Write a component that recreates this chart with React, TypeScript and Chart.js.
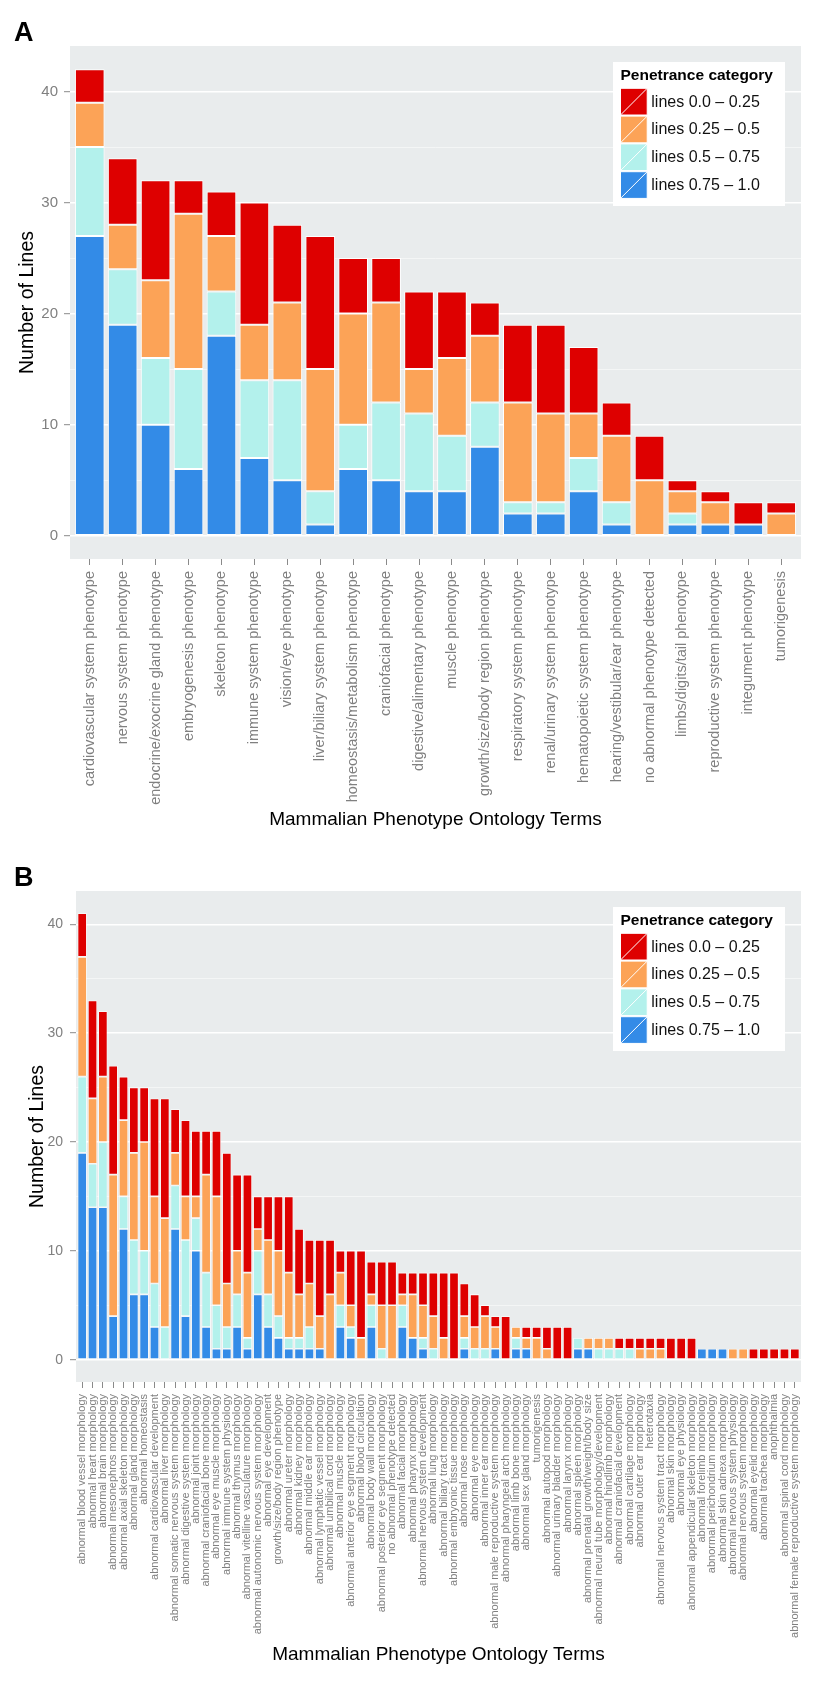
import React, { useEffect, useRef } from 'react';
import { Chart, registerables } from 'chart.js';

Chart.register(...registerables);

const FONT = "'Liberation Sans', Arial, Helvetica, sans-serif";

// stacking order: bottom -> top
const SERIES_LABELS = ['lines 0.75 – 1.0', 'lines 0.5 – 0.75', 'lines 0.25 – 0.5', 'lines 0.0 – 0.25'];
const SERIES_COLORS = ['#338BE7', '#B3F1EC', '#FCA357', '#DE0000'];
const LEGEND_TITLE = 'Penetrance category';
const Y_TITLE = 'Number of Lines';
const X_TITLE = 'Mammalian Phenotype Ontology Terms';
const Y_MAJOR_TICKS = [0, 10, 20, 30, 40];
const Y_MINOR_TICKS = [5, 15, 25, 35];

// ---------- Panel A ----------
const categoriesA = [
  'cardiovascular system phenotype',
  'nervous system phenotype',
  'endocrine/exocrine gland phenotype',
  'embryogenesis phenotype',
  'skeleton phenotype',
  'immune system phenotype',
  'vision/eye phenotype',
  'liver/biliary system phenotype',
  'homeostasis/metabolism phenotype',
  'craniofacial phenotype',
  'digestive/alimentary phenotype',
  'muscle phenotype',
  'growth/size/body region phenotype',
  'respiratory system phenotype',
  'renal/urinary system phenotype',
  'hematopoietic system phenotype',
  'hearing/vestibular/ear phenotype',
  'no abnormal phenotype detected',
  'limbs/digits/tail phenotype',
  'reproductive system phenotype',
  'integument phenotype',
  'tumorigenesis',
];
const blueA = [27, 19, 10, 6, 18, 7, 5, 1, 6, 5, 4, 4, 8, 2, 2, 4, 1, 0, 1, 1, 1, 0];
const cyanA = [8, 5, 6, 9, 4, 7, 9, 3, 4, 7, 7, 5, 4, 1, 1, 3, 2, 0, 1, 0, 0, 0];
const orangeA = [4, 4, 7, 14, 5, 5, 7, 11, 10, 9, 4, 7, 6, 9, 8, 4, 6, 5, 2, 2, 0, 2];
const redA = [3, 6, 9, 3, 4, 11, 7, 12, 5, 4, 7, 6, 3, 7, 8, 6, 3, 4, 1, 1, 2, 1];

// ---------- Panel B ----------
const categoriesB = [
  'abnormal blood vessel morphology',
  'abnormal heart morphology',
  'abnormal brain morphology',
  'abnormal mesonephros morphology',
  'abnormal axial skeleton morphology',
  'abnormal gland morphology',
  'abnormal homeostasis',
  'abnormal cardiovascular development',
  'abnormal liver morphology',
  'abnormal somatic nervous system morphology',
  'abnormal digestive system morphology',
  'abnormal joint morphology',
  'abnormal craniofacial bone morphology',
  'abnormal eye muscle morphology',
  'abnormal immune system physiology',
  'abnormal thymus morphology',
  'abnormal vitelline vasculature morphology',
  'abnormal autonomic nervous system morphology',
  'abnormal eye development',
  'growth/size/body region phenotype',
  'abnormal ureter morphology',
  'abnormal kidney morphology',
  'abnormal middle ear morphology',
  'abnormal lymphatic vessel morphology',
  'abnormal umbilical cord morphology',
  'abnormal muscle morphology',
  'abnormal anterior eye segment morphology',
  'abnormal blood circulation',
  'abnormal body wall morphology',
  'abnormal posterior eye segment morphology',
  'no abnormal phenotype detected',
  'abnormal facial morphology',
  'abnormal pharynx morphology',
  'abnormal nervous system development',
  'abnormal lung morphology',
  'abnormal biliary tract morphology',
  'abnormal embryonic tissue morphology',
  'abnormal nose morphology',
  'abnormal eye morphology',
  'abnormal inner ear morphology',
  'abnormal male reproductive system morphology',
  'abnormal pharyngeal arch morphology',
  'abnormal limb bone morphology',
  'abnormal sex gland morphology',
  'tumorigenesis',
  'abnormal autopod morphology',
  'abnormal urinary bladder morphology',
  'abnormal larynx morphology',
  'abnormal spleen morphology',
  'abnormal prenatal growth/weight/body size',
  'abnormal neural tube morphology/development',
  'abnormal hindlimb morphology',
  'abnormal craniofacial development',
  'abnormal cartilage morphology',
  'abnormal outer ear morphology',
  'heterotaxia',
  'abnormal nervous system tract morphology',
  'abnormal skin morphology',
  'abnormal eye physiology',
  'abnormal appendicular skeleton morphology',
  'abnormal forelimb morphology',
  'abnormal perichondrium morphology',
  'abnormal skin adnexa morphology',
  'abnormal nervous system physiology',
  'abnormal nervous system morphology',
  'abnormal eyelid morphology',
  'abnormal trachea morphology',
  'anophthalmia',
  'abnormal spinal cord morphology',
  'abnormal female reproductive system morphology',
];
const blueB = [
  19, 14, 14, 4, 12, 6, 6, 3, 0, 12, 4, 10, 3, 1, 1, 3, 1, 6, 3, 2, 1, 1, 1, 1, 0,
  3, 2, 0, 3, 0, 0, 3, 2, 1, 0, 0, 0, 1, 0, 0, 1, 0, 1, 1, 0, 0, 0, 0, 1, 1,
  0, 0, 0, 0, 0, 0, 0, 0, 0, 0, 1, 1, 1, 0, 0, 0, 0, 0, 0, 0,
];
const cyanB = [
  7, 4, 6, 0, 3, 5, 4, 4, 3, 4, 7, 3, 5, 4, 2, 3, 1, 4, 3, 2, 1, 1, 2, 0, 0,
  2, 1, 0, 2, 1, 0, 2, 0, 1, 1, 0, 0, 1, 1, 1, 0, 0, 1, 0, 0, 0, 0, 0, 1, 0,
  1, 1, 1, 1, 0, 0, 0, 0, 0, 0, 0, 0, 0, 0, 0, 0, 0, 0, 0, 0,
];
const orangeB = [
  11, 6, 6, 13, 7, 8, 10, 8, 10, 3, 4, 2, 9, 10, 4, 4, 6, 2, 5, 6, 6, 4, 4, 3, 6,
  3, 2, 2, 1, 4, 5, 1, 4, 3, 3, 2, 0, 2, 2, 3, 2, 0, 1, 1, 2, 1, 0, 0, 0, 1,
  1, 1, 0, 0, 1, 1, 1, 0, 0, 0, 0, 0, 0, 1, 1, 0, 0, 0, 0, 0,
];
const redB = [
  4, 9, 6, 10, 4, 6, 5, 9, 11, 4, 7, 6, 4, 6, 12, 7, 9, 3, 4, 5, 7, 6, 4, 7, 5,
  2, 5, 8, 3, 4, 4, 2, 2, 3, 4, 6, 8, 3, 3, 1, 1, 4, 0, 1, 1, 2, 3, 3, 0, 0,
  0, 0, 1, 1, 1, 1, 1, 2, 2, 2, 0, 0, 0, 0, 0, 1, 1, 1, 1, 1,
];

// ---------- plugins ----------
const bgPlugin = {
  id: 'panelBg',
  beforeDraw(chart: any) {
    const { ctx, chartArea } = chart;
    ctx.save();
    ctx.fillStyle = '#E9ECED';
    ctx.fillRect(chartArea.left, chartArea.top, chartArea.right - chartArea.left, chartArea.bottom - chartArea.top);
    ctx.restore();
  },
};

// ggplot-style discrete axis expansion (0.6 category on each side)
const expandPlugin = {
  id: 'discreteExpand',
  afterLayout(chart: any) {
    const s = chart.scales.x;
    const n = chart.data.labels.length;
    s._startValue = -0.6;
    s._valueRange = n - 1 + 1.2;
  },
};

const legendPlugin = {
  id: 'penLegend',
  afterDraw(chart: any) {
    const { ctx, chartArea } = chart;
    const w = 172;
    const h = 144;
    const x = chartArea.right - 16 - w;
    const y = chartArea.top + 16;
    ctx.save();
    ctx.fillStyle = '#ffffff';
    ctx.fillRect(x, y, w, h);
    ctx.fillStyle = '#000000';
    ctx.font = `bold 15.5px ${FONT}`;
    ctx.textAlign = 'left';
    ctx.textBaseline = 'alphabetic';
    ctx.fillText(LEGEND_TITLE, x + 7.5, y + 18);
    const items = [...chart.data.datasets].reverse();
    const sz = 26.7;
    items.forEach((d: any, i: number) => {
      const sx = x + 7.5;
      const sy = y + 26.3 + i * 27.8;
      ctx.fillStyle = d.backgroundColor;
      ctx.fillRect(sx, sy, sz, sz);
      ctx.strokeStyle = '#ffffff';
      ctx.lineWidth = 1;
      ctx.strokeRect(sx, sy, sz, sz);
      ctx.beginPath();
      ctx.moveTo(sx, sy + sz);
      ctx.lineTo(sx + sz, sy);
      ctx.stroke();
      ctx.fillStyle = '#111111';
      ctx.font = `16px ${FONT}`;
      ctx.textBaseline = 'middle';
      ctx.fillText(d.label, x + 38.3, sy + sz / 2 + 0.5);
    });
    ctx.restore();
  },
};

type PanelCfg = {
  top: number;
  height: number;
  padTop: number;
  yAxisWidth: number;
  xAxisHeight: number;
  yTitlePad: number;
  xTitlePad: number;
  yTickSize: number;
  yTickPad: number;
  xLabelSize: number;
  borderWidth: number;
};

function Panel({ categories, series, cfg }: { categories: string[]; series: number[][]; cfg: PanelCfg }) {
  const ref = useRef<HTMLCanvasElement>(null);
  useEffect(() => {
    const canvas = ref.current as HTMLCanvasElement;
    const totals = categories.map((_, i) => series.reduce((s, arr) => s + arr[i], 0));
    const maxTotal = Math.max(...totals);
    const yMin = -maxTotal * 0.05;
    const yMax = maxTotal * 1.05;
    const gridValues = [...Y_MAJOR_TICKS, ...Y_MINOR_TICKS].sort((a, b) => a - b);
    const isMajor = (v: number) => Y_MAJOR_TICKS.includes(v);
    const chart = new Chart(canvas, {
      type: 'bar',
      data: {
        labels: categories,
        datasets: series.map((d, k) => ({
          label: SERIES_LABELS[k],
          data: d,
          backgroundColor: SERIES_COLORS[k],
          borderColor: '#ffffff',
          borderWidth: cfg.borderWidth,
          borderSkipped: false,
          categoryPercentage: 1,
          barPercentage: 0.9,
        })),
      },
      options: {
        responsive: false,
        animation: false,
        events: [],
        layout: { padding: { top: cfg.padTop, right: 30, left: 0, bottom: 0 } },
        plugins: { legend: { display: false }, tooltip: { enabled: false } },
        scales: {
          x: {
            type: 'category',
            stacked: true,
            offset: false,
            grid: {
              display: true,
              offset: false,
              drawOnChartArea: false,
              drawTicks: true,
              tickLength: 6,
              tickColor: '#8a8a8a',
              tickWidth: 1,
              color: 'rgba(0,0,0,0)',
            },
            border: { display: false },
            ticks: {
              autoSkip: false,
              maxRotation: 90,
              minRotation: 90,
              padding: 6,
              color: '#808080',
              font: { family: FONT, size: cfg.xLabelSize },
            },
            title: {
              display: true,
              text: X_TITLE,
              color: '#000000',
              font: { family: FONT, size: 19 },
              padding: { top: 0, bottom: cfg.xTitlePad },
            },
            afterFit: (s: any) => {
              s.height = cfg.xAxisHeight;
            },
          },
          y: {
            stacked: true,
            min: yMin,
            max: yMax,
            afterBuildTicks: (s: any) => {
              s.ticks = gridValues.map((v) => ({ value: v }));
            },
            afterFit: (s: any) => {
              s.width = cfg.yAxisWidth;
            },
            grid: {
              drawTicks: true,
              tickLength: 6,
              color: (c: any) => (isMajor(c.tick.value) ? '#ffffff' : 'rgba(255,255,255,0.75)'),
              lineWidth: (c: any) => (isMajor(c.tick.value) ? 1.4 : 0.7),
              tickColor: (c: any) => (isMajor(c.tick.value) ? '#8a8a8a' : 'rgba(0,0,0,0)'),
              tickWidth: 1,
            },
            border: { display: false },
            ticks: {
              padding: cfg.yTickPad,
              color: '#808080',
              font: { family: FONT, size: cfg.yTickSize },
              callback: (v: any) => (isMajor(Number(v)) ? String(v) : ''),
            },
            title: {
              display: true,
              text: Y_TITLE,
              color: '#000000',
              font: { family: FONT, size: 19.5 },
              padding: { top: cfg.yTitlePad, bottom: 0 },
            },
          },
        },
      } as any,
      plugins: [bgPlugin, expandPlugin, legendPlugin],
    });
    return () => chart.destroy();
  }, []);
  return (
    <canvas
      ref={ref}
      width={831}
      height={cfg.height}
      style={{ position: 'absolute', left: 0, top: cfg.top, width: 831, height: cfg.height, display: 'block' }}
    />
  );
}

const cfgA: PanelCfg = {
  top: 0,
  height: 850,
  padTop: 46,
  yAxisWidth: 70,
  xAxisHeight: 291,
  yTitlePad: 16.3,
  xTitlePad: 18.6,
  yTickSize: 15,
  yTickPad: 6,
  xLabelSize: 14.5,
  borderWidth: 1,
};

const cfgB: PanelCfg = {
  top: 850,
  height: 857,
  padTop: 41,
  yAxisWidth: 76,
  xAxisHeight: 325,
  yTitlePad: 26.3,
  xTitlePad: 40.6,
  yTickSize: 14,
  yTickPad: 7,
  xLabelSize: 11,
  borderWidth: 0.8,
};

const letterStyle: React.CSSProperties = {
  position: 'absolute',
  left: 14,
  fontFamily: FONT,
  fontWeight: 'bold',
  fontSize: 27,
  lineHeight: '27px',
  color: '#000',
};

export default function App() {
  return (
    <div style={{ position: 'absolute', left: 0, top: 0, width: 831, height: 1707, background: '#ffffff', overflow: 'hidden' }}>
      <Panel categories={categoriesA} series={[blueA, cyanA, orangeA, redA]} cfg={cfgA} />
      <Panel categories={categoriesB} series={[blueB, cyanB, orangeB, redB]} cfg={cfgB} />
      <div style={{ ...letterStyle, top: 18.5 }}>A</div>
      <div style={{ ...letterStyle, top: 863.5 }}>B</div>
    </div>
  );
}
